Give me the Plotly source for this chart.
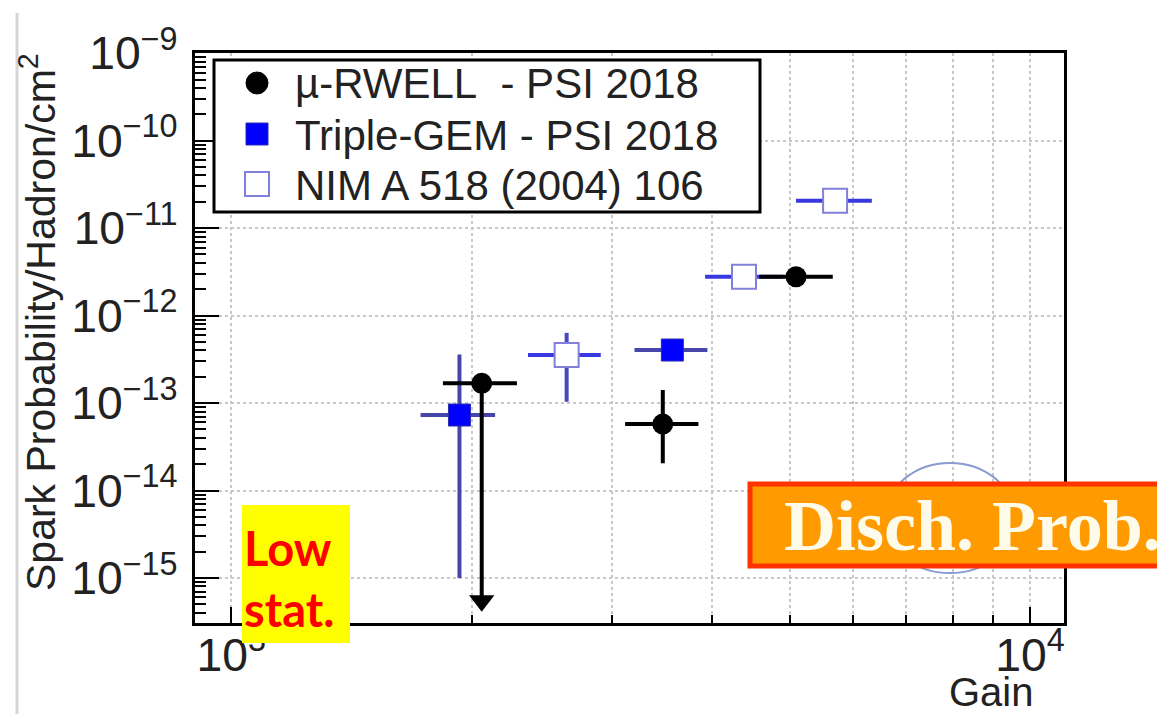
import math
import plotly.graph_objects as go

# ---- data: spark probability per hadron per cm^2 vs. detector gain ----
# mu-RWELL, PSI 2018 (first point is an upper limit)
rwell_gain = [2059, 3470, 5095]
rwell_gain_lo = [1841, 3113, 4583]
rwell_gain_hi = [2279, 3845, 5664]
rwell_prob = [1.68e-13, 5.75e-14, 2.78e-12]
rwell_prob_lo = [5.5e-16, 2.05e-14, 2.78e-12]
rwell_prob_hi = [1.68e-13, 1.41e-13, 2.78e-12]
rwell_upper_limit = [True, False, False]

# Triple-GEM, PSI 2018
gem_gain = [1931, 3567]
gem_gain_lo = [1726, 3198]
gem_gain_hi = [2140, 3946]
gem_prob = [7.3e-14, 4.04e-13]
gem_prob_lo = [1.0e-15, 4.04e-13]
gem_prob_hi = [3.6e-13, 4.04e-13]

# NIM A 518 (2004) 106
nim_gain = [2630, 4385, 5702]
nim_gain_lo = [2353, 3920, 5095]
nim_gain_hi = [2902, 4910, 6339]
nim_prob = [3.54e-13, 2.78e-12, 2.05e-11]
nim_prob_lo = [1.035e-13, 2.78e-12, 2.05e-11]
nim_prob_hi = [6.35e-13, 2.78e-12, 2.05e-11]

legend_labels = ["\u00b5-RWELL\u00a0\u00a0- PSI 2018", "Triple-GEM - PSI 2018", "NIM A 518 (2004) 106"]
x_title = "Gain"
y_title = "Spark Probability/Hadron/cm<sup>2</sup>"
gain_range = [901, 11030]
prob_range = [3.06e-16, 1.0e-9]

# ---- figure geometry (pixels) ----
W_FIG, H_FIG = 1157, 714
L, T, R, B = 195, 53, 93, 91
PW, PH = W_FIG - L - R, H_FIG - T - B


def px_x(px):
    return (px - L) / PW


def px_y(py):
    return (T + PH - py) / PH


def minus(v, lo):
    return [a - b for a, b in zip(v, lo)]


def plus(v, hi):
    return [b - a for a, b in zip(v, hi)]


AX_FONT = "Liberation Sans, Arial, sans-serif"
fig = go.Figure()

# Triple-GEM
fig.add_trace(go.Scatter(
    x=gem_gain, y=gem_prob, mode="markers",
    marker=dict(symbol="square", size=22, color="#0000ff", line=dict(color="#2a2ab0", width=1)),
    error_x=dict(type="data", symmetric=False, array=plus(gem_gain, gem_gain_hi),
                 arrayminus=minus(gem_gain, gem_gain_lo), width=0, thickness=4, color="#4646aa"),
    error_y=dict(type="data", symmetric=False, array=plus(gem_prob, gem_prob_hi),
                 arrayminus=minus(gem_prob, gem_prob_lo), width=0, thickness=4, color="#4646aa"),
    name=legend_labels[1],
))

# NIM A 518 (2004) 106
fig.add_trace(go.Scatter(
    x=nim_gain, y=nim_prob, mode="markers",
    marker=dict(symbol="square", size=24, color="white", line=dict(color="#8080dc", width=2)),
    error_x=dict(type="data", symmetric=False, array=plus(nim_gain, nim_gain_hi),
                 arrayminus=minus(nim_gain, nim_gain_lo), width=0, thickness=4, color="#3838e0"),
    error_y=dict(type="data", symmetric=False, array=plus(nim_prob, nim_prob_hi),
                 arrayminus=minus(nim_prob, nim_prob_lo), width=0, thickness=4, color="#4848c0"),
    name=legend_labels[2],
))

# mu-RWELL
fig.add_trace(go.Scatter(
    x=rwell_gain, y=rwell_prob, mode="markers",
    marker=dict(symbol="circle", size=21, color="black"),
    error_x=dict(type="data", symmetric=False, array=plus(rwell_gain, rwell_gain_hi),
                 arrayminus=minus(rwell_gain, rwell_gain_lo), width=0, thickness=4, color="black"),
    error_y=dict(type="data", symmetric=False, array=plus(rwell_prob, rwell_prob_hi),
                 arrayminus=minus(rwell_prob, rwell_prob_lo), width=0, thickness=4, color="black"),
    name=legend_labels[0],
))

# arrow heads for upper limits
lim_x = [g for g, u in zip(rwell_gain, rwell_upper_limit) if u]
lim_y = [p for p, u in zip(rwell_prob_lo, rwell_upper_limit) if u]
fig.add_trace(go.Scatter(
    x=lim_x, y=lim_y, mode="markers",
    marker=dict(symbol="triangle-down", size=22, color="black"),
    hoverinfo="skip",
))

grid = dict(gridcolor="#c8c8c8", griddash="dot", gridwidth=2)

fig.update_xaxes(
    type="log", range=[math.log10(gain_range[0]), math.log10(gain_range[1])],
    dtick=1, exponentformat="power",
    showline=True, linecolor="black", linewidth=3, mirror=True,
    ticks="inside", ticklen=16, tickwidth=2, tickcolor="black",
    showgrid=True, **grid, zeroline=False,
    tickfont=dict(family=AX_FONT, size=37, color="#222"),
    ticklabelstandoff=-9,
    minor=dict(dtick="D1", ticks="inside", ticklen=8, tickwidth=2, tickcolor="black",
               showgrid=True, **grid),
)
fig.update_yaxes(
    type="log", range=[math.log10(prob_range[0]), math.log10(prob_range[1]) + 0.002],
    dtick=1, exponentformat="power",
    showline=True, linecolor="black", linewidth=3, mirror=True,
    ticks="inside", ticklen=24, tickwidth=2, tickcolor="black",
    showgrid=True, **grid, zeroline=False,
    tickfont=dict(family=AX_FONT, size=37, color="#222"),
    ticklabelstandoff=7,
    minor=dict(dtick="D1", ticks="inside", ticklen=11, tickwidth=2, tickcolor="black",
               showgrid=False),
)

shapes = []
annotations = []

# page frame line
shapes.append(dict(type="line", xref="paper", yref="paper",
                   x0=px_x(17), x1=px_x(17), y0=px_y(13), y1=px_y(714),
                   line=dict(color="#d6d6d6", width=3), layer="above"))

# legend
shapes.append(dict(type="rect", xref="paper", yref="paper",
                   x0=px_x(214), x1=px_x(760), y0=px_y(212), y1=px_y(60),
                   fillcolor="white", line=dict(color="black", width=3), layer="above"))
rows = [83, 134, 184]
mx = 257
shapes.append(dict(type="circle", xref="paper", yref="paper",
                   x0=px_x(mx - 11), x1=px_x(mx + 11), y0=px_y(rows[0] + 11), y1=px_y(rows[0] - 11),
                   fillcolor="black", line=dict(color="black", width=1), layer="above"))
shapes.append(dict(type="rect", xref="paper", yref="paper",
                   x0=px_x(mx - 11), x1=px_x(mx + 11), y0=px_y(rows[1] + 11), y1=px_y(rows[1] - 11),
                   fillcolor="#0000ff", line=dict(color="#2a2ab0", width=1), layer="above"))
shapes.append(dict(type="rect", xref="paper", yref="paper",
                   x0=px_x(mx - 12), x1=px_x(mx + 12), y0=px_y(rows[2] + 12), y1=px_y(rows[2] - 12),
                   fillcolor="white", line=dict(color="#8080dc", width=2), layer="above"))
for label, ry in zip(legend_labels, rows):
    annotations.append(dict(text=label, xref="paper", yref="paper", x=px_x(293), y=px_y(ry + 1),
                            xanchor="left", yanchor="middle", showarrow=False,
                            font=dict(family=AX_FONT, size=42, color="#222")))

# "Low stat." note
shapes.append(dict(type="rect", xref="paper", yref="paper",
                   x0=px_x(242), x1=px_x(350), y0=px_y(643), y1=px_y(505),
                   fillcolor="#ffff00", line=dict(width=0), layer="above"))
annotations.append(dict(text="<b>Low<br>stat.</b>", xref="paper", yref="paper",
                        x=px_x(242), y=px_y(578), xanchor="left", yanchor="middle", align="left",
                        showarrow=False, font=dict(family="Lato, Open Sans, sans-serif", size=47, color="#ff0000")))

# discharge probability banner
shapes.append(dict(type="circle", xref="paper", yref="paper",
                   x0=px_x(885), x1=px_x(1015), y0=px_y(573), y1=px_y(463),
                   line=dict(color="#8a9ad0", width=2), layer="above"))
shapes.append(dict(type="rect", xref="paper", yref="paper",
                   x0=px_x(750), x1=px_x(1175), y0=px_y(566), y1=px_y(484),
                   fillcolor="#ff9a00", line=dict(color="#ff3300", width=5), layer="above"))
annotations.append(dict(text="<b>Disch. Prob.</b>", xref="paper", yref="paper",
                        x=px_x(782), y=px_y(526), xanchor="left", yanchor="middle", showarrow=False,
                        font=dict(family="Liberation Serif, Times New Roman, serif", size=72, color="#fffbea")))

# axis titles
annotations.append(dict(text=y_title, xref="paper", yref="paper", x=px_x(38), y=px_y(322),
                        xanchor="center", yanchor="middle", textangle=-90, showarrow=False,
                        font=dict(family=AX_FONT, size=41, color="#222")))
annotations.append(dict(text=x_title, xref="paper", yref="paper", x=px_x(1036), y=px_y(692),
                        xanchor="right", yanchor="middle", showarrow=False,
                        font=dict(family=AX_FONT, size=40, color="#222")))

fig.update_layout(
    width=W_FIG, height=H_FIG,
    margin=dict(l=L, r=R, t=T, b=B),
    paper_bgcolor="white", plot_bgcolor="white",
    showlegend=False,
    shapes=shapes, annotations=annotations,
    font=dict(family=AX_FONT),
)

fig.write_html("out.html")
